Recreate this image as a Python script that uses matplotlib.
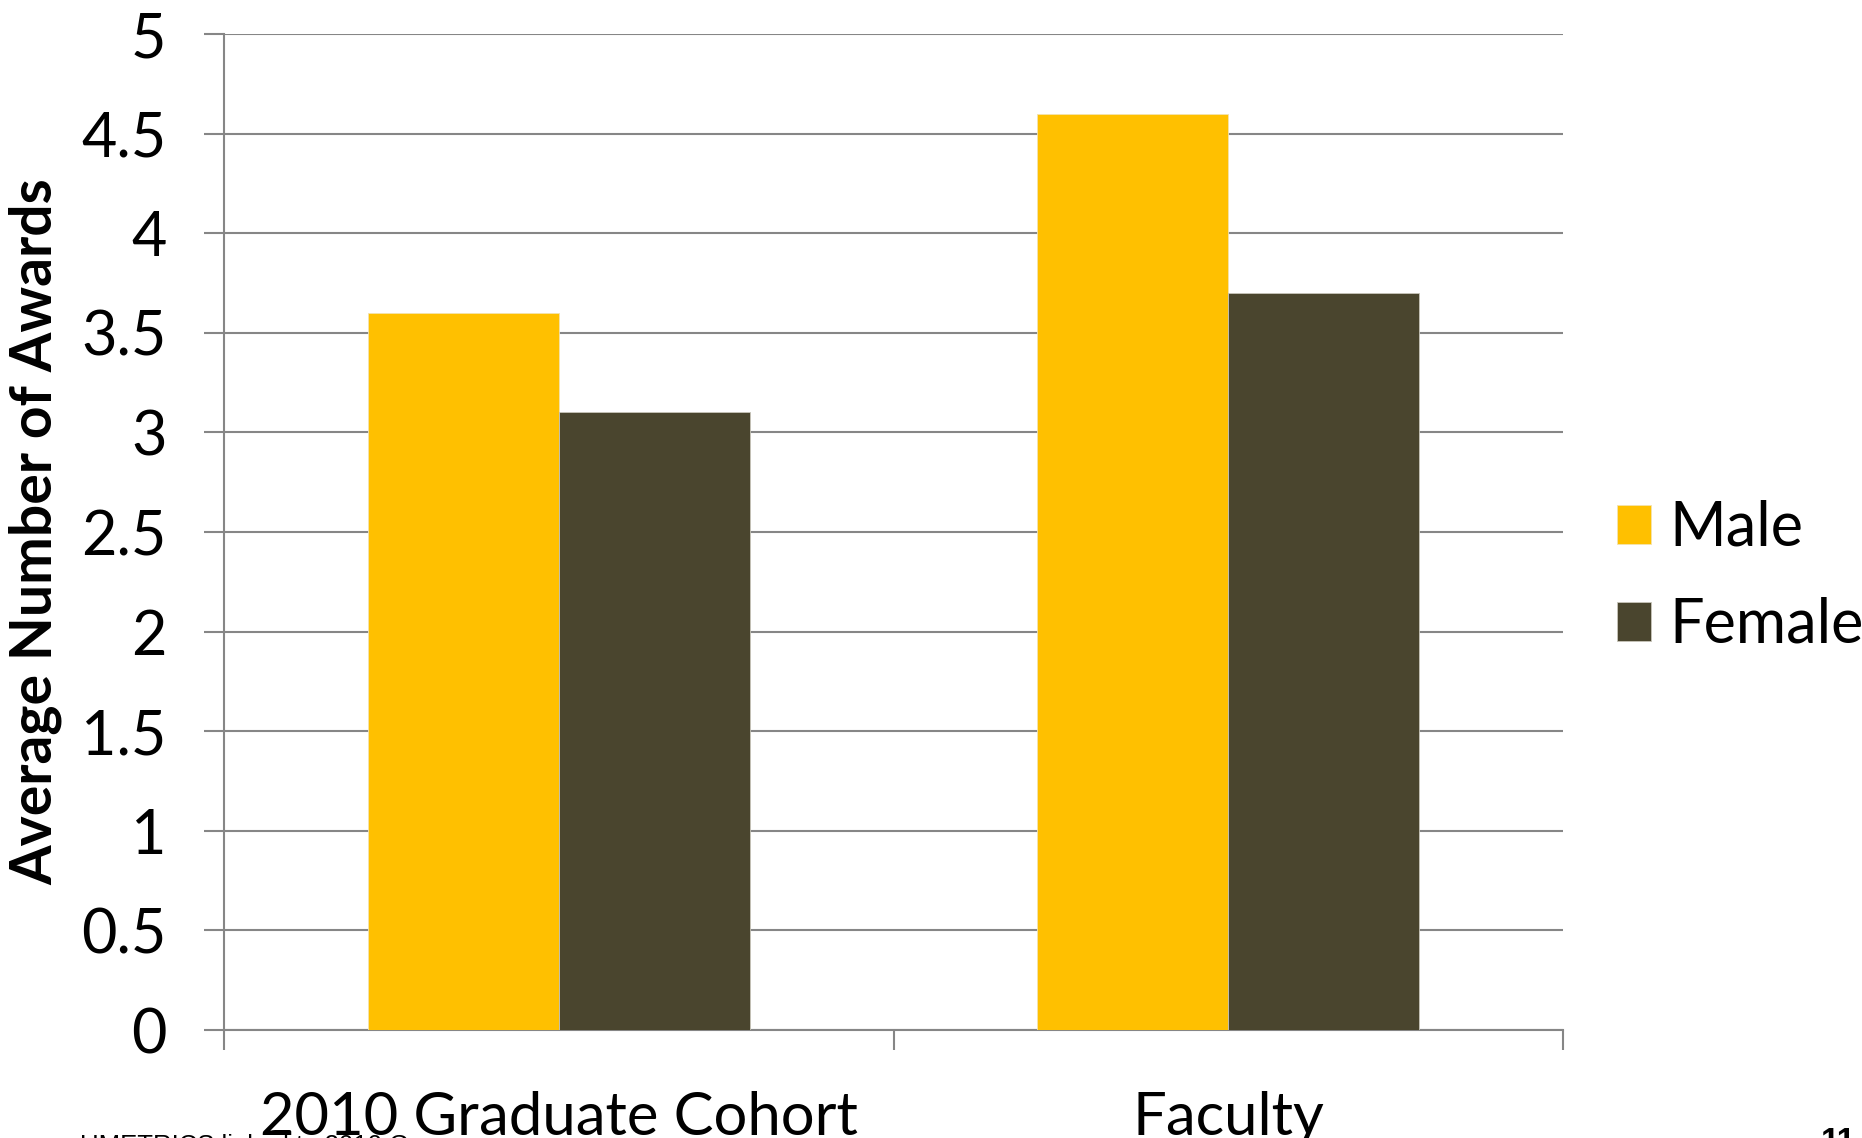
import numpy as np
import matplotlib
matplotlib.use("Agg")
import matplotlib.pyplot as plt

plt.rcParams['font.family'] = ['Lato', 'DejaVu Sans']

# data
categories = ['2010 Graduate Cohort', 'Faculty']
series_names = ['Male', 'Female']
male_vals = [3.6, 4.6]
female_vals = [3.1, 3.7]
yticks = [0, 0.5, 1, 1.5, 2, 2.5, 3, 3.5, 4, 4.5, 5]
ytick_labels = ['0', '0.5', '1', '1.5', '2', '2.5', '3', '3.5', '4', '4.5', '5']

W, H = 1862, 1138
fig = plt.figure(figsize=(W / 100, H / 100), dpi=100)

# axes box in pixels (left, right, top, bottom)
left, right, top, bottom = 224, 1563, 34, 1030
ax = fig.add_axes([left / W, (H - bottom) / H, (right - left) / W, (bottom - top) / H])

grey = '#868686'
x = np.arange(len(categories))
w = 0.2853
ax.bar(x - w / 2, male_vals, w, color='#FFC000', edgecolor='#f3e3b0', linewidth=0.6,
       label=series_names[0], zorder=3)
ax.bar(x + w / 2, female_vals, w, color='#4A452E', edgecolor='#c9c6bb', linewidth=0.6,
       label=series_names[1], zorder=3)

ax.set_xlim(-0.5, 1.5)
ax.set_ylim(0, 5)
ax.set_yticks(yticks)
ax.set_yticklabels(ytick_labels)
ax.yaxis.grid(True, color=grey, linewidth=1.5, zorder=0)
ax.set_axisbelow(True)

# category boundary ticks + labels on minor ticks
ax.set_xticks([-0.5, 0.5, 1.5])
ax.set_xticklabels([])
ax.set_xticks(x, minor=True)
ax.set_xticklabels(categories, minor=True)
ax.tick_params(axis='x', which='major', direction='out', length=14.4, width=1.5, color=grey)
ax.tick_params(axis='x', which='minor', length=0, pad=44, labelsize=43)
ax.tick_params(axis='y', direction='out', length=14.4, width=1.5, color=grey,
               pad=27, labelsize=44)

for s in ['top', 'right']:
    ax.spines[s].set_visible(False)
for s in ['left', 'bottom']:
    ax.spines[s].set_color(grey)
    ax.spines[s].set_linewidth(1.5)

ax.set_ylabel('Average Number of Awards', fontsize=41, fontweight='bold')
ax.yaxis.set_label_coords((62 - left) / (right - left), 0.5)

leg = ax.legend(loc='upper left', bbox_to_anchor=((1617 - left) / (right - left), (bottom - 500) / (bottom - top)),
                frameon=False, fontsize=44,
                handlelength=0.55, handleheight=0.6, handletextpad=0.3, labelspacing=0.65,
                borderaxespad=0.0, borderpad=0.0)

# footer texts (partly cut off at the bottom edge)
fig.text(80 / W, 1 - 1134 / H, 'UMETRICS linked to 2010 G', fontsize=18.5, va='top',
         family=['Liberation Sans', 'DejaVu Sans'])
fig.text(1821 / W, 1 - 1127 / H, '11', fontsize=24, va='top', fontweight='bold',
         family=['Liberation Sans', 'DejaVu Sans'])

fig.savefig('out.png', dpi=100)
